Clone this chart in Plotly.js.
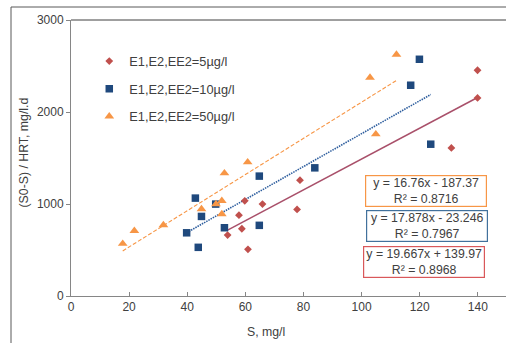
<!DOCTYPE html>
<html>
<head>
<meta charset="utf-8">
<script src="https://cdn.plot.ly/plotly-3.0.1.min.js"></script>
<style>
html,body{margin:0;padding:0;background:#fff;overflow:hidden;}
#chart{width:506px;height:343px;}
</style>
</head>
<body>
<div id="chart"></div>
<script>
// ---- data ----
const seriesNames = ["E1,E2,EE2=5µg/l", "E1,E2,EE2=10µg/l", "E1,E2,EE2=50µg/l"];

const s5_x = [53.9, 57.8, 58.8, 59.8, 60.9, 65.9, 77.8, 78.8, 130.9, 139.9, 139.9];
const s5_y = [662, 879, 731, 1035, 507, 999, 941, 1259, 1610, 2153, 2454];

const s10_x = [39.8, 42.8, 43.8, 44.9, 49.8, 52.8, 64.8, 64.8, 83.9, 116.9, 119.9, 123.8];
const s10_y = [687, 1064, 529, 865, 999, 742, 1303, 768, 1393, 2291, 2573, 1650];

const s50_x = [17.8, 21.8, 31.8, 44.9, 49.9, 51.9, 51.9, 52.8, 60.8, 102.9, 104.9, 112.0];
const s50_y = [568, 709, 771, 945, 999, 1035, 890, 1335, 1455, 2375, 1759, 2624];

// trend lines as drawn (slope, intercept) for the 5, 10, 50 series
const trendSlopes = [16.76, 17.878, 19.667];
const trendIntercepts = [-187.37, -23.246, 139.97];
const trendR2 = [0.8716, 0.7967, 0.8968];

// equation boxes as shown (top to bottom)
const eqTexts = ["y = 16.76x - 187.37<br>R² = 0.8716",
                 "y = 17.878x - 23.246<br>R² = 0.7967",
                 "y = 19.667x + 139.97<br>R² = 0.8968"];

const xTitle = "S, mg/l";
const yTitle = "(S0-S) / HRT, mg/l.d";
const xTicks = [0, 20, 40, 60, 80, 100, 120, 140];
const yTicks = [0, 1000, 2000, 3000];

// ---- styling ----
const FONT = '"Liberation Sans", Arial, sans-serif';
const markerColors = ['#C0504D', '#1F497D', '#F79646'];
const markerSymbols = ['diamond', 'square', 'triangle-up'];
const markerSizes = [6, 7.5, 8.5];
const lineColors = ['#A9506A', '#2E5E9E', '#F79646'];
const lineDash = ['solid', '1.5px,1px', '4px,2px'];
const lineWidths = [1.5, 1.6, 1.1];
const boxColors = ['#F79646', '#41719C', '#D9585A'];
const boxPos = [[122, 1137], [122.5, 758], [121.6, 372]];

const xs = [s5_x, s10_x, s50_x];
const ys = [s5_y, s10_y, s50_y];

const traces = [];
for (let i = 0; i < 3; i++) {
  const xmin = Math.min(...xs[i]), xmax = Math.max(...xs[i]);
  traces.push({
    x: [xmin, xmax],
    y: [trendSlopes[i] * xmin + trendIntercepts[i], trendSlopes[i] * xmax + trendIntercepts[i]],
    mode: 'lines', type: 'scatter', showlegend: false, hoverinfo: 'skip',
    line: {color: lineColors[i], width: lineWidths[i], dash: lineDash[i]}
  });
}
for (let i = 0; i < 3; i++) {
  traces.push({
    x: xs[i], y: ys[i], name: seriesNames[i], legendgroup: 'g' + i,
    mode: 'markers', type: 'scatter',
    marker: {color: markerColors[i], symbol: markerSymbols[i], size: markerSizes[i]}
  });
}

const annotations = eqTexts.map((t, i) => ({
  x: boxPos[i][0], y: boxPos[i][1], xref: 'x', yref: 'y',
  text: t, showarrow: false, align: 'center',
  font: {family: FONT, size: 12.3, color: '#404040'},
  bordercolor: boxColors[i], borderwidth: 1.2, borderpad: 1,
  width: 118, height: 28, bgcolor: '#ffffff'
}));
// axis titles (positioned as in the reference)
annotations.push({
  text: xTitle, xref: 'paper', yref: 'paper', x: 0.448, y: -0.13,
  xanchor: 'center', yanchor: 'middle', showarrow: false,
  font: {family: FONT, size: 12.3, color: '#404040'}
});
annotations.push({
  text: yTitle, xref: 'paper', yref: 'paper', x: -0.108, y: 0.52,
  xanchor: 'center', yanchor: 'middle', textangle: -90, showarrow: false,
  font: {family: FONT, size: 12.3, color: '#404040'}
});

const layout = {
  width: 506, height: 343,
  margin: {l: 71, r: 0, t: 20, b: 47},
  paper_bgcolor: '#ffffff', plot_bgcolor: '#ffffff',
  font: {family: FONT, size: 12, color: '#404040'},
  showlegend: true,
  legend: {
    x: 0.042, y: 0.905, xanchor: 'left', yanchor: 'top',
    bgcolor: 'rgba(0,0,0,0)', traceorder: 'grouped', tracegroupgap: 8,
    font: {family: FONT, size: 12.8, color: '#404040'}
  },
  xaxis: {
    range: [0, 149.7], tickvals: xTicks, ticktext: xTicks.map(String),
    ticks: 'inside', ticklen: 4, tickcolor: '#868686',
    showline: true, linecolor: '#868686', linewidth: 1,
    showgrid: false, zeroline: false,
    tickfont: {family: FONT, size: 12, color: '#404040'}
  },
  yaxis: {
    range: [0, 3000], tickvals: yTicks, ticktext: yTicks.map(String),
    ticks: 'outside', ticklen: 4, tickcolor: '#868686',
    showline: true, linecolor: '#868686', linewidth: 1,
    showgrid: false, zeroline: false,
    tickfont: {family: FONT, size: 12, color: '#404040'}
  },
  shapes: [
    {type: 'rect', xref: 'paper', yref: 'paper', x0: -0.1379, x1: 1.5, y0: -0.5, y1: 1.0471,
     line: {color: '#595959', width: 1}, fillcolor: 'rgba(0,0,0,0)', layer: 'below'},
    {type: 'line', xref: 'paper', yref: 'paper', x0: 0, x1: 1, y0: 1, y1: 1,
     line: {color: '#404040', width: 1}}
  ],
  annotations: annotations
};

Plotly.newPlot('chart', traces, layout, {displayModeBar: false, staticPlot: true});
</script>
</body>
</html>
